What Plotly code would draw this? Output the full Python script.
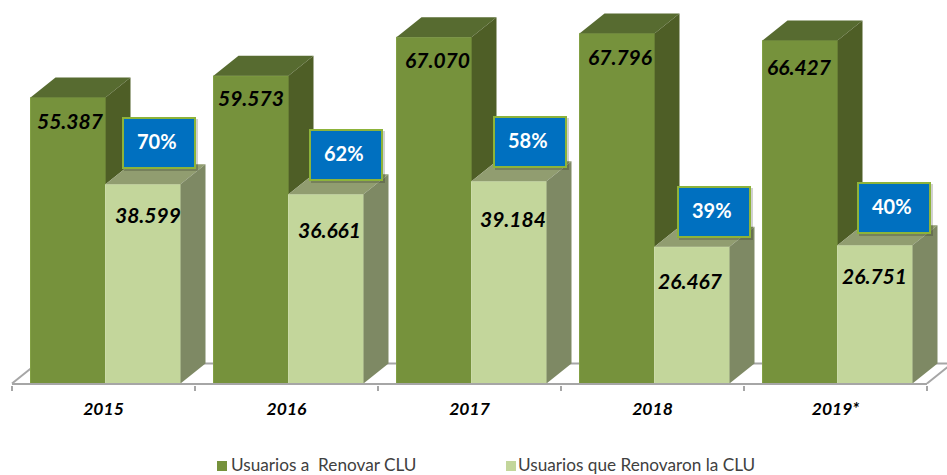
import plotly.graph_objects as go

categories = ["2015", "2016", "2017", "2018", "2019*"]
renovar = [55387, 59573, 67070, 67796, 66427]
renovaron = [38599, 36661, 39184, 26467, 26751]
pct_labels = ["70%", "62%", "58%", "39%", "40%"]
series_names = ["Usuarios a\u00a0\u00a0Renovar CLU", "Usuarios que Renovaron la CLU"]

W, H = 947, 475
X0, UNIT = 12.0, 183.0       # pixel of axis start, pixels per category
Y0, SCALE = 383.5, 0.005164  # pixel of value 0, pixels per value unit
BAR = 75 / UNIT
GAP = 18.5 / UNIT
DX = 25 / UNIT
DY = 20 / SCALE

px = lambda x: (x - X0) / UNIT
pf = lambda y: 1 - y / H

DARK, DARK_SIDE, DARK_TOP = "#76923C", "#4E5E26", "#576B30"
LIGHT, LIGHT_SIDE, LIGHT_TOP = "#C3D69B", "#7E8964", "#919D70"
AXIS = "#A6A6A6"
FONT = "Lato"

idx = list(range(len(categories)))
x_dark = [i + GAP + BAR / 2 for i in idx]
x_light = [i + GAP + BAR * 1.5 for i in idx]

fig = go.Figure()
fig.add_bar(x=x_dark, y=renovar, width=BAR, marker=dict(color=DARK, line=dict(color="#82A044", width=1)),
            name=series_names[0], showlegend=False)
fig.add_bar(x=x_light, y=renovaron, width=BAR, marker=dict(color=LIGHT, line=dict(color="#CBDBA8", width=1)),
            name=series_names[1], showlegend=False)


def poly(xs, ys, color):
    fig.add_scatter(x=xs, y=ys, mode="lines", fill="toself", fillcolor=color,
                    line=dict(width=0, color=color), hoverinfo="skip", showlegend=False)


for i, a, b in zip(idx, renovar, renovaron):
    l = i + GAP
    m = l + BAR
    r = m + BAR
    poly([l, l + DX, m + DX, m, l], [a, a + DY, a + DY, a, a], DARK_TOP)
    poly([m, m + DX, m + DX, m, m], [a, a + DY, b + DY, b, a], DARK_SIDE)
    poly([m, m + DX, r + DX, r, m], [b, b + DY, b + DY, b, b], LIGHT_TOP)
    poly([r, r + DX, r + DX, r, r], [b, b + DY, DY, 0, b], LIGHT_SIDE)

AXIS_Y = -0.5 / SCALE
shapes = [
    dict(type="line", xref="x", yref="y", x0=0, y0=0, x1=DX, y1=DY, line=dict(color=AXIS, width=2), layer="below"),
    dict(type="line", xref="x", yref="y", x0=DX, y0=DY, x1=5 + DX, y1=DY, line=dict(color=AXIS, width=2), layer="below"),
    dict(type="line", xref="x", yref="y", x0=5, y0=0, x1=5 + DX, y1=DY, line=dict(color=AXIS, width=2), layer="below"),
    dict(type="line", xref="x", yref="y", x0=0, y0=AXIS_Y, x1=5, y1=AXIS_Y, line=dict(color=AXIS, width=2)),
]

annotations = []
dark_dx = [2, 0, 3, 3, -1]
dark_dy = [23, 22, 22, 23, 26]
light_dx = [5, 3, 4, -2, -1]
light_dy = [30, 35, 37, 34, 30]
box_left = [122, 309, 493, 677, 857]
box_top = [117, 129, 116, 186, 182]
BOX_W, BOX_H = 74, 52

for i in idx:
    for xv, v, dx, dy in ((x_dark[i], renovar[i], dark_dx[i], dark_dy[i]),
                          (x_light[i], renovaron[i], light_dx[i], light_dy[i])):
        annotations.append(dict(x=xv, y=v, xref="x", yref="y", xshift=dx, yshift=-dy,
                                text=f"{v:,}".replace(",", "."), showarrow=False,
                                font=dict(family=FONT, size=21, color="black", weight="bold", style="italic")))
    cx = px(box_left[i] + BOX_W / 2)
    cy = pf(box_top[i] + BOX_H / 2)
    common = dict(x=cx, y=cy, xref="x", yref="paper", xanchor="center", yanchor="middle", showarrow=False)
    annotations.append(dict(common, xshift=2, yshift=-2, text="", width=BOX_W, height=BOX_H,
                            bgcolor="rgba(0,0,0,0.18)", borderpad=0, borderwidth=0))
    annotations.append(dict(common, text="", width=BOX_W - 4, height=BOX_H - 4, bgcolor="#0070C0",
                            bordercolor="#8DB33A", borderwidth=2, borderpad=0))
    annotations.append(dict(common, xshift=-2, yshift=2, text=pct_labels[i],
                            font=dict(family=FONT, size=20, color="white", weight="bold")))

for name, color, sq, tx in ((series_names[0], DARK, 217, 229), (series_names[1], LIGHT, 506, 516)):
    shapes.append(dict(type="rect", xref="paper", yref="paper", x0=sq / W, x1=(sq + 10) / W,
                       y0=pf(471), y1=pf(461), fillcolor=color, line=dict(width=0)))
    annotations.append(dict(x=tx / W, y=pf(464.5), xref="paper", yref="paper", xanchor="left", yanchor="middle",
                            text=name, showarrow=False, font=dict(family=FONT, size=17.2, color="#404040")))

fig.update_layout(
    width=W, height=H, margin=dict(l=0, r=0, t=0, b=0), paper_bgcolor="white", plot_bgcolor="white",
    showlegend=False, barmode="overlay", shapes=shapes, annotations=annotations,
    xaxis=dict(range=[px(0), px(W)], tickmode="array", tickvals=[i + 0.5 for i in idx], ticktext=categories,
               ticks="", showgrid=False, zeroline=False, showline=False,
               anchor="free", position=pf(385), ticklabelstandoff=11,
               tickfont=dict(family=FONT, size=17.5, color="black", weight="bold", style="italic"),
               minor=dict(tickmode="array", tickvals=list(range(len(categories) + 1)), ticks="outside",
                          ticklen=5, tickcolor=AXIS, tickwidth=2, showgrid=False)),
    yaxis=dict(range=[(Y0 - H) / SCALE, Y0 / SCALE], visible=False),
)

fig.write_html("out.html", config=dict(displayModeBar=False),
               post_script="document.body.style.margin='0';document.body.style.overflow='hidden';")
